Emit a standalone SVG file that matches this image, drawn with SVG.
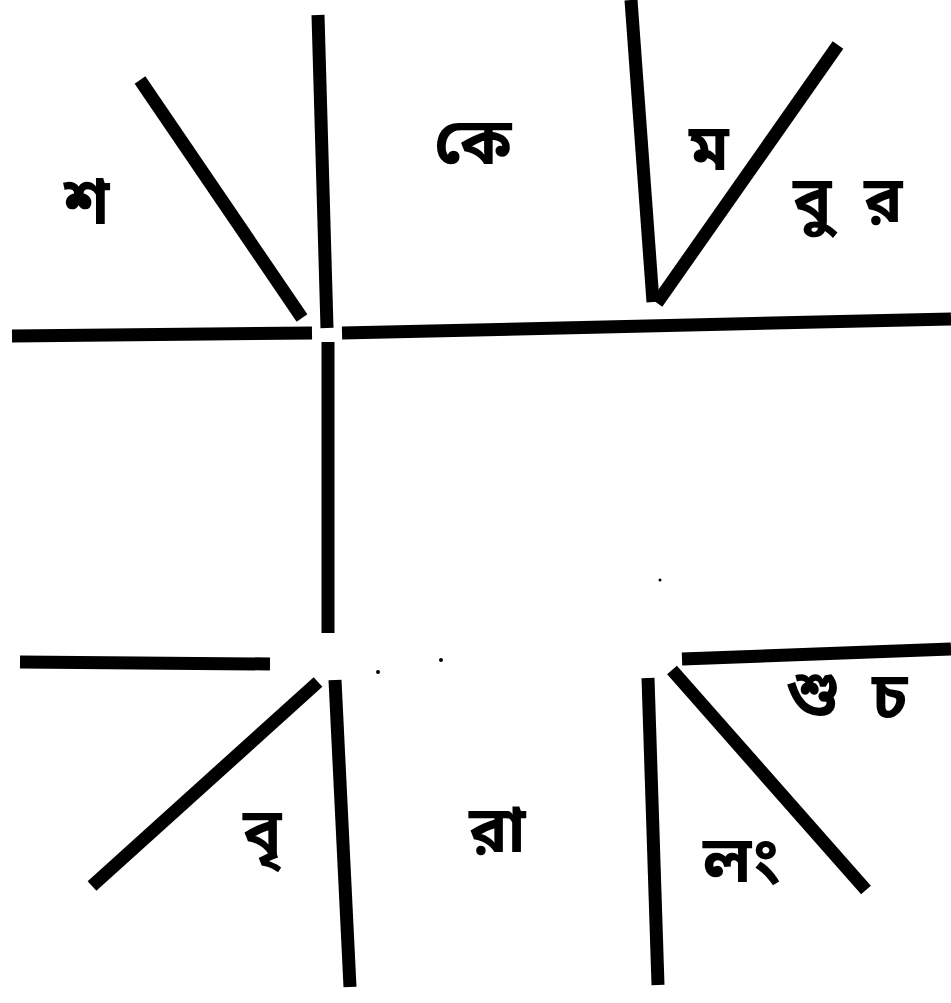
<svg xmlns="http://www.w3.org/2000/svg" width="951" height="1003" viewBox="0 0 951 1003">
<style>
.ln{stroke:#000;stroke-width:13;stroke-linecap:butt;fill:none}
.tx{font-family:"Noto Sans Bengali","Noto Serif Bengali","Lohit Bengali","Noto Sans",sans-serif;font-size:64px;font-weight:bold;fill:#000}
</style>
<rect width="951" height="1003" fill="#fff"/>
<g id="lines">
<line class="ln" x1="140" y1="80" x2="302" y2="318"/>
<line class="ln" x1="318" y1="15" x2="327" y2="328"/>
<line class="ln" x1="12" y1="336" x2="312" y2="333"/>
<line class="ln" x1="342" y1="333" x2="951" y2="319"/>
<line class="ln" x1="328" y1="342" x2="328" y2="633"/>
<line class="ln" x1="631" y1="0" x2="653" y2="302"/>
<line class="ln" x1="838" y1="45" x2="657" y2="303"/>
<line class="ln" x1="20" y1="662" x2="270" y2="664"/>
<line class="ln" x1="318" y1="682" x2="92" y2="886"/>
<line class="ln" x1="335" y1="680" x2="350" y2="987"/>
<line class="ln" x1="682" y1="659" x2="951" y2="649"/>
<line class="ln" x1="648" y1="678" x2="658" y2="985"/>
<line class="ln" x1="672" y1="670" x2="866" y2="890"/>
<circle cx="378" cy="672" r="2" fill="#000"/>
<circle cx="441" cy="660" r="2" fill="#000"/>
<circle cx="660" cy="580" r="1.5" fill="#000"/>
</g>
<g id="sha"><text class="tx" x="64" y="224">শ</text></g>
<g id="ke"><text class="tx" x="434" y="164">কে</text></g>
<g id="ma"><text class="tx" x="689" y="170">ম</text></g>
<g id="bu"><text class="tx" x="793" y="222">বু</text></g>
<g id="ra"><text class="tx" x="864" y="222">র</text></g>
<g id="bri"><text class="tx" x="243" y="854">বৃ</text></g>
<g id="raa"><text class="tx" x="469" y="852">রা</text></g>
<g id="lang"><text class="tx" x="703" y="882">লং</text></g>
<g id="shu"><text class="tx" x="786" y="716">শু</text></g>
<g id="cha"><text class="tx" x="872" y="718">চ</text></g>
</svg>
